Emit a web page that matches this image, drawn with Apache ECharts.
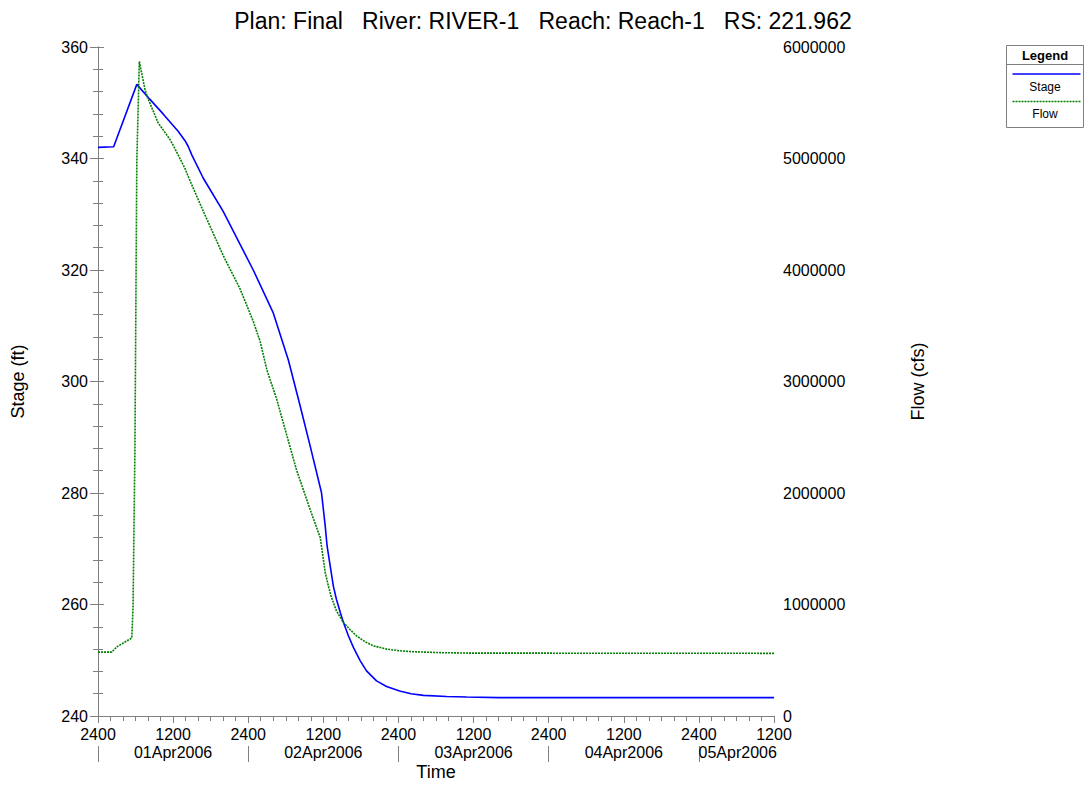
<!DOCTYPE html>
<html>
<head>
<meta charset="utf-8">
<script src="https://cdn.jsdelivr.net/npm/echarts@6/dist/echarts.min.js"></script>
<style>
  html, body { margin: 0; padding: 0; background: #fff; }
  #main { width: 1086px; height: 786px; }
</style>
</head>
<body>
<div id="main"></div>
<script>
// hours after 31Mar2006 2400
var stageHours = [0, 2.5, 6.2, 8.3, 10.4, 12.8, 13.9, 14.4, 15, 16.8, 20, 24.8, 28, 30.4, 32.3, 33.9, 35.7, 36.3, 36.6, 37.1, 37.6, 38.1, 38.7, 39.2, 40, 40.8, 41.9, 42.9, 44.5, 46.1, 48.2, 50, 52, 55.7, 58.9, 64, 108];
var stageFt = [342, 342.1, 353.3, 350.6, 348.0, 344.9, 343.2, 342.2, 340.6, 336.5, 330.5, 320, 312.3, 303.9, 295.6, 288.4, 280.1, 274.1, 270.5, 266.9, 263.3, 260.9, 258.6, 256.8, 254.4, 252.3, 249.9, 248.1, 246.3, 245.3, 244.5, 244.0, 243.7, 243.5, 243.4, 243.3, 243.3];

var flowHours = [0, 2.2, 3, 5.4, 5.6, 5.9, 6.2, 6.6, 7.5, 7.9, 9.6, 11.5, 12, 13.9, 14.7, 16.8, 20, 22.7, 24.8, 25.9, 27, 28.5, 29.6, 31.7, 33.9, 35.5, 35.7, 36, 36.3, 36.8, 37.3, 38.1, 39.2, 40.3, 41.3, 42.7, 44, 46.1, 48.2, 50.4, 55, 59.4, 108];
var flowCfs = [573000, 573000, 620000, 700000, 980000, 2400000, 4970000, 5870000, 5620000, 5550000, 5320000, 5170000, 5120000, 4910000, 4800000, 4530000, 4130000, 3830000, 3540000, 3360000, 3100000, 2850000, 2630000, 2210000, 1850000, 1600000, 1525000, 1406000, 1287000, 1167000, 1063000, 943000, 839000, 773000, 719000, 665000, 629000, 600000, 585000, 576000, 568000, 564000, 562000];

var hourTicks = [0, 12, 24, 36, 48, 60, 72, 84, 96, 108];
var dayBounds = [0, 24, 48, 72, 96];
var dayLabelPos = [12, 36, 60, 84, 102.2];
var dayLabels = ["01Apr2006", "02Apr2006", "03Apr2006", "04Apr2006", "05Apr2006"];

var FONT = "'Liberation Sans', Arial, sans-serif";
var axisGray = "#808080";

var zip = function (xs, ys) {
  return xs.map(function (x, i) { return [x, ys[i]]; });
};

var chart = echarts.init(document.getElementById("main"), null, { renderer: "svg" });
chart.setOption({
  animation: false,
  backgroundColor: "#fff",
  textStyle: { fontFamily: FONT },
  title: {
    text: "Plan: Final   River: RIVER-1   Reach: Reach-1   RS: 221.962",
    left: "center",
    top: 4,
    textStyle: { fontFamily: FONT, fontSize: 23, fontWeight: "normal", color: "#000" },
  },
  grid: { left: 98, right: 312, top: 47, bottom: 69 },
  xAxis: [
    {
      type: "value",
      min: 0,
      max: 108,
      interval: 12,
      name: "Time",
      nameLocation: "middle",
      nameGap: 47,
      nameTextStyle: { fontFamily: FONT, fontSize: 18, color: "#000" },
      axisLine: { show: true, lineStyle: { color: axisGray } },
      axisTick: { show: true, length: 7, lineStyle: { color: axisGray } },
      minorTick: { show: true, splitNumber: 6, length: 5, lineStyle: { color: axisGray } },
      splitLine: { show: false },
      axisLabel: {
        margin: 10,
        fontSize: 16,
        color: "#000",
        fontFamily: FONT,
        formatter: function (v) { return v % 24 === 0 ? "2400" : "1200"; },
      },
    },
    {
      type: "value",
      min: 0,
      max: 108,
      position: "bottom",
      offset: 30,
      axisLine: { show: false },
      axisTick: { show: true, length: 16, customValues: dayBounds, lineStyle: { color: axisGray } },
      splitLine: { show: false },
      axisLabel: {
        customValues: dayLabelPos,
        margin: -2,
        fontSize: 16,
        color: "#000",
        fontFamily: FONT,
        formatter: function (v) { return dayLabels[Math.floor(v / 24)]; },
      },
    },
  ],
  yAxis: [
    {
      type: "value",
      min: 240,
      max: 360,
      interval: 20,
      position: "left",
      name: "Stage (ft)",
      nameLocation: "middle",
      nameGap: 71,
      nameTextStyle: { fontFamily: FONT, fontSize: 18, color: "#000" },
      axisLine: { show: true, lineStyle: { color: axisGray } },
      axisTick: { show: true, length: 8, lineStyle: { color: axisGray } },
      minorTick: { show: true, splitNumber: 5, length: 5, lineStyle: { color: axisGray } },
      splitLine: { show: false },
      axisLabel: { margin: 10, fontSize: 16, color: "#000", fontFamily: FONT },
    },
    {
      type: "value",
      min: 0,
      max: 6000000,
      interval: 1000000,
      position: "right",
      name: "Flow (cfs)",
      nameLocation: "middle",
      nameGap: 135,
      nameTextStyle: { fontFamily: FONT, fontSize: 18, color: "#000" },
      axisLine: { show: true, lineStyle: { color: axisGray } },
      axisTick: { show: true, length: 6, lineStyle: { color: axisGray } },
      minorTick: { show: true, splitNumber: 5, length: 5, lineStyle: { color: axisGray } },
      splitLine: { show: false },
      axisLabel: {
        margin: 9,
        fontSize: 16,
        color: "#000",
        fontFamily: FONT,
        formatter: function (v) { return String(v); },
      },
    },
  ],
  series: [
    {
      name: "Stage",
      type: "line",
      xAxisIndex: 0,
      yAxisIndex: 0,
      data: zip(stageHours, stageFt),
      showSymbol: false,
      symbol: "none",
      lineStyle: { color: "#0000ff", width: 1.6 },
      itemStyle: { color: "#0000ff" },
    },
    {
      name: "Flow",
      type: "line",
      xAxisIndex: 0,
      yAxisIndex: 1,
      data: zip(flowHours, flowCfs),
      showSymbol: false,
      symbol: "none",
      lineStyle: { color: "#007f00", width: 1.6, type: [2, 1] },
      itemStyle: { color: "#007f00" },
    },
  ],
  // legend box drawn like the original's boxed legend
  graphic: [
    {
      type: "group",
      left: 1004,
      top: 45,
      children: [
        { type: "rect", shape: { x: 0, y: 0, width: 77, height: 82 }, style: { fill: "#fff", stroke: axisGray, lineWidth: 1 } },
        { type: "text", x: 38.5, y: 10, style: { text: "Legend", fontFamily: FONT, fontSize: 13, fontWeight: "bold", fill: "#000", align: "center", verticalAlign: "middle" } },
        { type: "line", shape: { x1: 0, y1: 19, x2: 77, y2: 19 }, style: { stroke: axisGray, lineWidth: 1 } },
        { type: "line", shape: { x1: 6, y1: 28.5, x2: 74, y2: 28.5 }, style: { stroke: "#0000ff", lineWidth: 1.6 } },
        { type: "text", x: 38.5, y: 41, style: { text: "Stage", fontFamily: FONT, fontSize: 12, fill: "#000", align: "center", verticalAlign: "middle" } },
        { type: "line", shape: { x1: 6, y1: 56, x2: 74, y2: 56 }, style: { stroke: "#007f00", lineWidth: 1.6, lineDash: [2, 1] } },
        { type: "text", x: 38.5, y: 68, style: { text: "Flow", fontFamily: FONT, fontSize: 12, fill: "#000", align: "center", verticalAlign: "middle" } },
      ],
    },
  ],
});
</script>
</body>
</html>
